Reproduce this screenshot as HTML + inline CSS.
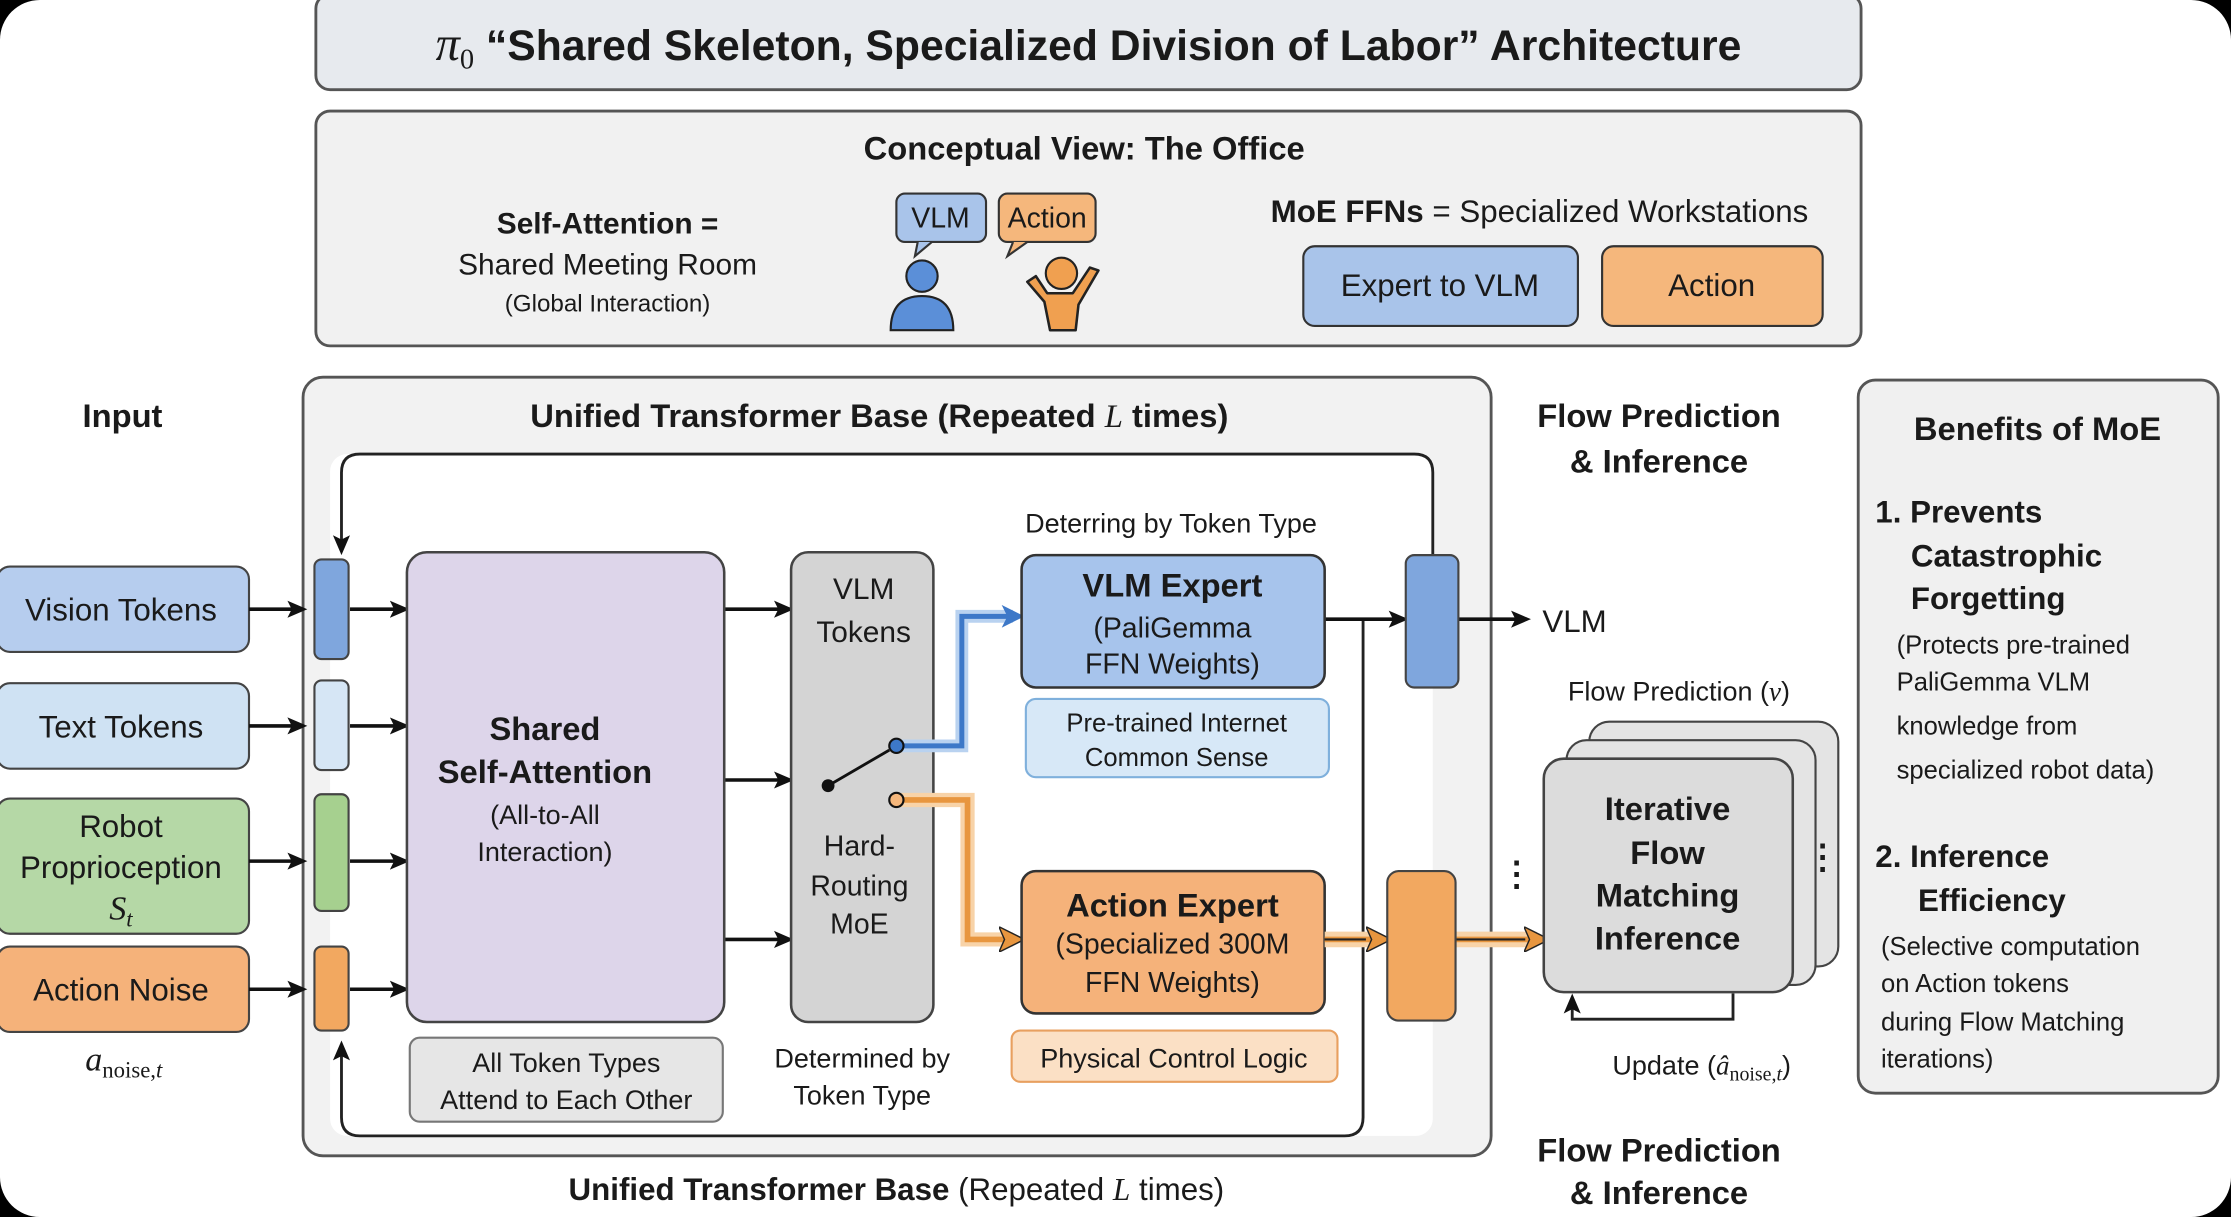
<!DOCTYPE html>
<html><head><meta charset="utf-8"><style>
html,body{margin:0;padding:0;background:#000;}
svg{display:block;}
text{font-family:"Liberation Sans",sans-serif;fill:#1a1a1a;}
.b{font-weight:bold;}
.m{font-family:"Liberation Serif",serif;font-style:italic;}
</style></head><body>
<svg width="2231" height="1217" viewBox="0 0 1568 855" preserveAspectRatio="none" xmlns="http://www.w3.org/2000/svg">
<defs>
<marker id="ar" markerWidth="14" markerHeight="14" refX="11" refY="7" orient="auto" markerUnits="userSpaceOnUse"><path d="M0,1 L14,7 L0,13 L3,7z" fill="#111"/></marker>
<marker id="arb" markerWidth="16" markerHeight="16" refX="12" refY="8" orient="auto" markerUnits="userSpaceOnUse"><path d="M0,0 L16,8 L0,16 L4,8z" fill="#3d78c8"/></marker>
<marker id="aro" markerWidth="18" markerHeight="18" refX="14" refY="9" orient="auto" markerUnits="userSpaceOnUse"><path d="M0,0 L18,9 L0,18 L4,9z" fill="#e8963f" stroke="#222" stroke-width="1"/></marker>
</defs>
<rect x="0" y="0" width="1568" height="855" rx="28" fill="#fff"/>
<rect x="222" y="-4" width="1086" height="67" rx="10" fill="#e7eaee" stroke="#555" stroke-width="2"/>
<text x="765" y="42" font-size="30" text-anchor="middle" class="b"><tspan class="m" font-weight="normal" font-size="34">π</tspan><tspan font-size="20" dy="6" font-weight="normal" font-family="Liberation Serif">0</tspan><tspan dy="-6"> “Shared Skeleton, Specialized Division of Labor” Architecture</tspan></text>
<rect x="222" y="78" width="1086" height="165" rx="10" fill="#f1f1f1" stroke="#555" stroke-width="2"/>
<text x="762" y="112" font-size="23" text-anchor="middle" class="b">Conceptual View: The Office</text>
<text x="427" y="164" font-size="21" text-anchor="middle" class="b">Self-Attention =</text>
<text x="427" y="193" font-size="21" text-anchor="middle">Shared Meeting Room</text>
<text x="427" y="219" font-size="17" text-anchor="middle">(Global Interaction)</text>
<rect x="630" y="136" width="63" height="34" rx="6" fill="#a9c4ea" stroke="#333" stroke-width="1.5"/>
<path d="M645,170 L643,180 L655,170" fill="#a9c4ea" stroke="#333" stroke-width="1.5"/>
<text x="661" y="160" font-size="20" text-anchor="middle">VLM</text>
<rect x="702" y="136" width="68" height="34" rx="6" fill="#f5b77c" stroke="#333" stroke-width="1.5"/>
<path d="M712,170 L708,180 L722,170" fill="#f5b77c" stroke="#333" stroke-width="1.5"/>
<text x="736" y="160" font-size="20" text-anchor="middle">Action</text>
<circle cx="648" cy="194" r="11" fill="#5b8fd8" stroke="#222" stroke-width="1.5"/>
<path d="M626,232 Q626,208 648,208 Q670,208 670,232z" fill="#5b8fd8" stroke="#222" stroke-width="1.5"/>
<circle cx="746" cy="192" r="11" fill="#f0a050" stroke="#222" stroke-width="1.5"/>
<path d="M722,198 L734,212 L738,232 L756,232 L758,214 L772,190 L766,188 L754,206 L736,206 L728,194z" fill="#f0a050" stroke="#222" stroke-width="1.8" stroke-linejoin="round"/>
<text x="1082" y="156" font-size="22" text-anchor="middle"><tspan class="b">MoE FFNs</tspan> = Specialized Workstations</text>
<rect x="916" y="173" width="193" height="56" rx="8" fill="#a9c4ea" stroke="#333" stroke-width="1.5"/>
<text x="1012" y="208" font-size="22" text-anchor="middle">Expert to VLM</text>
<rect x="1126" y="173" width="155" height="56" rx="8" fill="#f5b77c" stroke="#333" stroke-width="1.5"/>
<text x="1203" y="208" font-size="22" text-anchor="middle">Action</text>
<rect x="213" y="265" width="835" height="547" rx="14" fill="#f2f2f2" stroke="#555" stroke-width="2"/>
<text x="618" y="300" font-size="23" text-anchor="middle" class="b">Unified Transformer Base (Repeated <tspan class="m" font-weight="normal">L</tspan> times)</text>
<rect x="232" y="319" width="775" height="479" rx="12" fill="#fff"/>
<path d="M1007,390 V332 Q1007,319 994,319 H253 Q240,319 240,332 V387" fill="none" stroke="#222" stroke-width="2" marker-end="url(#ar)"/>
<path d="M958,436 V785 Q958,798 945,798 H253 Q240,798 240,785 V734" fill="none" stroke="#222" stroke-width="2" marker-end="url(#ar)"/>
<text x="58" y="300" font-size="23" class="b">Input</text>
<rect x="-2" y="398" width="177" height="60" rx="9" fill="#b6cdee" stroke="#444" stroke-width="1.5"/>
<text x="85" y="436" font-size="22" text-anchor="middle">Vision Tokens</text>
<rect x="-2" y="480" width="177" height="60" rx="9" fill="#cfe2f3" stroke="#444" stroke-width="1.5"/>
<text x="85" y="518" font-size="22" text-anchor="middle">Text Tokens</text>
<rect x="-2" y="561" width="177" height="95" rx="9" fill="#b5d8a6" stroke="#444" stroke-width="1.5"/>
<text x="85" y="588" font-size="22" text-anchor="middle">Robot</text>
<text x="85" y="617" font-size="22" text-anchor="middle">Proprioception</text>
<text x="85" y="646" font-size="24" text-anchor="middle" class="m">S<tspan font-size="16" dy="5">t</tspan></text>
<rect x="-2" y="665" width="177" height="60" rx="9" fill="#f5b27a" stroke="#444" stroke-width="1.5"/>
<text x="85" y="703" font-size="22" text-anchor="middle">Action Noise</text>
<text x="87" y="752" font-size="24" text-anchor="middle" class="m">a<tspan font-size="16" dy="5" font-style="normal">noise,</tspan><tspan font-size="16">t</tspan></text>
<g stroke="#111" stroke-width="2.5" marker-end="url(#ar)">
<line x1="175" y1="428" x2="213" y2="428"/><line x1="175" y1="510" x2="213" y2="510"/>
<line x1="175" y1="605" x2="213" y2="605"/><line x1="175" y1="695" x2="213" y2="695"/>
<line x1="246" y1="428" x2="285" y2="428"/><line x1="246" y1="510" x2="285" y2="510"/>
<line x1="246" y1="605" x2="285" y2="605"/><line x1="246" y1="695" x2="285" y2="695"/>
<line x1="509" y1="428" x2="555" y2="428"/><line x1="509" y1="548" x2="555" y2="548"/>
<line x1="509" y1="660" x2="555" y2="660"/>
<line x1="931" y1="435" x2="987" y2="435"/><line x1="1025" y1="435" x2="1073" y2="435"/>
</g>
<rect x="221" y="393" width="24" height="70" rx="5" fill="#7fa6dd" stroke="#444" stroke-width="1.5"/>
<rect x="221" y="478" width="24" height="63" rx="5" fill="#d6e6f5" stroke="#444" stroke-width="1.5"/>
<rect x="221" y="558" width="24" height="82" rx="5" fill="#a6d08f" stroke="#444" stroke-width="1.5"/>
<rect x="221" y="665" width="24" height="59" rx="5" fill="#f2a860" stroke="#444" stroke-width="1.5"/>
<rect x="286" y="388" width="223" height="330" rx="14" fill="#ddd5ea" stroke="#444" stroke-width="1.8"/>
<text x="383" y="520" font-size="23" text-anchor="middle" class="b">Shared</text>
<text x="383" y="550" font-size="23" text-anchor="middle" class="b">Self-Attention</text>
<text x="383" y="579" font-size="19" text-anchor="middle">(All-to-All</text>
<text x="383" y="605" font-size="19" text-anchor="middle">Interaction)</text>
<rect x="288" y="729" width="220" height="59" rx="7" fill="#e6e6e6" stroke="#777" stroke-width="1.5"/>
<text x="398" y="753" font-size="19" text-anchor="middle">All Token Types</text>
<text x="398" y="779" font-size="19" text-anchor="middle">Attend to Each Other</text>
<rect x="556" y="388" width="100" height="330" rx="12" fill="#d4d4d4" stroke="#444" stroke-width="1.8"/>
<text x="607" y="421" font-size="21" text-anchor="middle">VLM</text>
<text x="607" y="451" font-size="21" text-anchor="middle">Tokens</text>
<text x="604" y="601" font-size="20" text-anchor="middle">Hard-</text>
<text x="604" y="629" font-size="20" text-anchor="middle">Routing</text>
<text x="604" y="656" font-size="20" text-anchor="middle">MoE</text>
<text x="606" y="750" font-size="19" text-anchor="middle">Determined by</text>
<text x="606" y="776" font-size="19" text-anchor="middle">Token Type</text>
<path d="M630,524 H676 V433 H712" fill="none" stroke="#b9d2f0" stroke-width="9"/>
<path d="M630,524 H676 V433 H716" fill="none" stroke="#3d78c8" stroke-width="3.5" marker-end="url(#arb)"/>
<path d="M630,562 H680 V660 H712" fill="none" stroke="#f8d3a8" stroke-width="10"/>
<path d="M630,562 H680 V660 H716" fill="none" stroke="#e8963f" stroke-width="4" marker-end="url(#aro)"/>
<line x1="582" y1="552" x2="625" y2="527" stroke="#111" stroke-width="2"/>
<circle cx="582" cy="552" r="4.5" fill="#111"/>
<circle cx="630" cy="524" r="5" fill="#3d78c8" stroke="#111" stroke-width="1.5"/>
<circle cx="630" cy="562" r="5" fill="#f5b77c" stroke="#111" stroke-width="1.5"/>
<text x="823" y="374" font-size="19" text-anchor="middle">Deterring by Token Type</text>
<rect x="718" y="390" width="213" height="93" rx="10" fill="#a7c4ec" stroke="#333" stroke-width="1.8"/>
<text x="824" y="419" font-size="23" text-anchor="middle" class="b">VLM Expert</text>
<text x="824" y="448" font-size="20" text-anchor="middle">(PaliGemma</text>
<text x="824" y="473" font-size="20" text-anchor="middle">FFN Weights)</text>
<rect x="721" y="491" width="213" height="55" rx="7" fill="#d7e8f7" stroke="#7fb0dc" stroke-width="1.5"/>
<text x="827" y="514" font-size="18" text-anchor="middle">Pre-trained Internet</text>
<text x="827" y="538" font-size="18" text-anchor="middle">Common Sense</text>
<rect x="718" y="612" width="213" height="100" rx="10" fill="#f5b27a" stroke="#333" stroke-width="1.8"/>
<text x="824" y="644" font-size="23" text-anchor="middle" class="b">Action Expert</text>
<text x="824" y="670" font-size="20" text-anchor="middle">(Specialized 300M</text>
<text x="824" y="697" font-size="20" text-anchor="middle">FFN Weights)</text>
<rect x="711" y="724" width="229" height="36" rx="6" fill="#fbe0c5" stroke="#e8a060" stroke-width="1.5"/>
<text x="825" y="750" font-size="19" text-anchor="middle">Physical Control Logic</text>
<rect x="988" y="390" width="37" height="93" rx="6" fill="#7fa6dd" stroke="#444" stroke-width="1.5"/>
<text x="1084" y="444" font-size="22">VLM</text>
<path d="M931,660 H968 M1023,660 H1080" stroke="#f8d3a8" stroke-width="11"/>
<line x1="931" y1="660" x2="974" y2="660" stroke="#e8963f" stroke-width="4" marker-end="url(#aro)"/>
<line x1="931" y1="660" x2="960" y2="660" stroke="#222" stroke-width="1.5"/>
<line x1="1023" y1="660" x2="1085" y2="660" stroke="#e8963f" stroke-width="4" marker-end="url(#aro)"/>
<line x1="1023" y1="660" x2="1072" y2="660" stroke="#222" stroke-width="1.5"/>
<rect x="975" y="612" width="48" height="105" rx="8" fill="#f2a860" stroke="#444" stroke-width="1.5"/>
<text x="1166" y="300" font-size="23" text-anchor="middle" class="b">Flow Prediction</text>
<text x="1166" y="332" font-size="23" text-anchor="middle" class="b">&amp; Inference</text>
<text x="1166" y="816" font-size="23" text-anchor="middle" class="b">Flow Prediction</text>
<text x="1166" y="846" font-size="23" text-anchor="middle" class="b">&amp; Inference</text>
<text x="1180" y="492" font-size="19" text-anchor="middle">Flow Prediction (<tspan class="m">v</tspan>)</text>
<rect x="1117" y="507" width="175" height="172" rx="14" fill="#e4e4e4" stroke="#444" stroke-width="1.5"/>
<rect x="1101" y="520" width="175" height="172" rx="14" fill="#e4e4e4" stroke="#444" stroke-width="1.5"/>
<rect x="1085" y="533" width="175" height="164" rx="14" fill="#dcdcdc" stroke="#444" stroke-width="1.8"/>
<text x="1172" y="576" font-size="23" text-anchor="middle" class="b">Iterative</text>
<text x="1172" y="607" font-size="23" text-anchor="middle" class="b">Flow</text>
<text x="1172" y="637" font-size="23" text-anchor="middle" class="b">Matching</text>
<text x="1172" y="667" font-size="23" text-anchor="middle" class="b">Inference</text>
<text x="1066" y="622" font-size="24" text-anchor="middle" class="b">⋮</text>
<text x="1281" y="610" font-size="24" text-anchor="middle" class="b">⋮</text>
<path d="M1218,698 V716 H1105 V701" fill="none" stroke="#222" stroke-width="2" marker-end="url(#ar)"/>
<text x="1196" y="755" font-size="19" text-anchor="middle">Update (<tspan class="m">â</tspan><tspan font-family="Liberation Serif" font-size="14" dy="4">noise,</tspan><tspan class="m" font-size="14">t</tspan><tspan dy="-4">)</tspan></text>
<rect x="1306" y="267" width="253" height="501" rx="12" fill="#f0f0f0" stroke="#555" stroke-width="2"/>
<text x="1432" y="309" font-size="23" text-anchor="middle" class="b">Benefits of MoE</text>
<g font-size="22" class="b">
<text x="1318" y="367" class="b">1. Prevents</text>
<text x="1343" y="398" class="b">Catastrophic</text>
<text x="1343" y="428" class="b">Forgetting</text>
<text x="1318" y="609" class="b">2. Inference</text>
<text x="1348" y="640" class="b">Efficiency</text>
</g>
<g font-size="18">
<text x="1333" y="459">(Protects pre-trained</text>
<text x="1333" y="485">PaliGemma VLM</text>
<text x="1333" y="516">knowledge from</text>
<text x="1333" y="547">specialized robot data)</text>
<text x="1322" y="671">(Selective computation</text>
<text x="1322" y="697">on Action tokens</text>
<text x="1322" y="724">during Flow Matching</text>
<text x="1322" y="750">iterations)</text>
</g>
<text x="630" y="843" font-size="22" text-anchor="middle"><tspan class="b">Unified Transformer Base</tspan> (Repeated <tspan class="m">L</tspan> times)</text>
</svg>
</body></html>
